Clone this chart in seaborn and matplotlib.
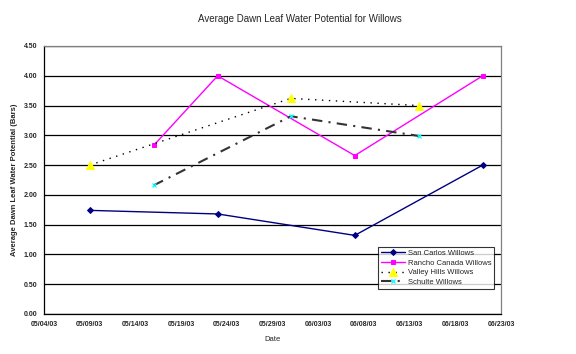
import pandas as pd
import numpy as np
import matplotlib
matplotlib.use("Agg")
import matplotlib.pyplot as plt
import matplotlib.dates as mdates
import seaborn as sns

# values
san_carlos_dates = ["2003-05-09", "2003-05-23", "2003-06-07", "2003-06-21"]
san_carlos_vals = [1.74, 1.68, 1.32, 2.50]

rancho_dates = ["2003-05-16", "2003-05-23", "2003-06-07", "2003-06-21"]
rancho_vals = [2.83, 4.00, 2.66, 4.00]

valley_dates = ["2003-05-09", "2003-05-31", "2003-06-14"]
valley_vals = [2.50, 3.62, 3.50]

schulte_dates = ["2003-05-16", "2003-05-31", "2003-06-14"]
schulte_vals = [2.16, 3.32, 2.99]

y_ticks = [0.0, 0.5, 1.0, 1.5, 2.0, 2.5, 3.0, 3.5, 4.0, 4.5]

sns.set_style("white")
plt.rcParams["font.family"] = ["Liberation Sans", "DejaVu Sans"]

fig = plt.figure(figsize=(5.76, 3.54), dpi=100)
ax = fig.add_axes([44 / 576, 1 - 314 / 354, (501 - 44) / 576, (314 - 46) / 354])

sns.lineplot(x=pd.to_datetime(san_carlos_dates), y=san_carlos_vals, ax=ax, color="#000080", lw=1.0,
             marker="D", markersize=3, markerfacecolor="#000080",
             markeredgecolor="#000080", label="San Carlos Willows")
sns.lineplot(x=pd.to_datetime(rancho_dates), y=rancho_vals, ax=ax, color="#FF00FF", lw=1.0,
             marker="s", markersize=3.5, markerfacecolor="#FF00FF",
             markeredgecolor="#FF00FF", label="Rancho Canada Willows")
sns.lineplot(x=pd.to_datetime(valley_dates), y=valley_vals, ax=ax, color="black", lw=1.0,
             linestyle=(0, (1, 4)), marker="^", markersize=5.5, markerfacecolor="#FFFF00",
             markeredgecolor="#FFFF00", label="Valley Hills Willows")
sns.lineplot(x=pd.to_datetime(schulte_dates), y=schulte_vals, ax=ax, color="#333333", lw=1.5,
             linestyle=(0, (5, 3, 1, 3)), marker="x", markersize=3.5, markerfacecolor="#00FFFF",
             markeredgecolor="#00FFFF", markeredgewidth=0.9, label="Schulte Willows")

ax.set_xlim(pd.Timestamp("2003-05-04"), pd.Timestamp("2003-06-23"))
ticks = pd.date_range("2003-05-04", "2003-06-23", freq="5D")
ax.set_xticks(ticks)
ax.xaxis.set_major_formatter(mdates.DateFormatter("%m/%d/%y"))

ax.set_ylim(0, 4.5)
ax.set_yticks(y_ticks)
ax.set_yticklabels([f"{t:.2f}" for t in y_ticks])
ax.yaxis.grid(True, color="black", lw=0.9)
ax.set_axisbelow(True)

for s in ["left", "bottom"]:
    ax.spines[s].set_color("black")
    ax.spines[s].set_linewidth(0.9)
for s in ["top", "right"]:
    ax.spines[s].set_color("#808080")
    ax.spines[s].set_linewidth(0.9)

ax.tick_params(axis="both", direction="out", length=3, width=0.8, color="black",
               labelsize=5, pad=2)
for lab in ax.get_xticklabels() + ax.get_yticklabels():
    lab.set_fontweight("bold")

ax.set_xlabel("Date", fontsize=5.5, labelpad=6)
ax.set_ylabel("Average Dawn Leaf Water Potential (Bars)", fontsize=5.5, fontweight="bold", labelpad=4)
fig.suptitle("Average Dawn Leaf Water Potential for Willows", fontsize=7, x=0.52, y=0.96)

leg = ax.legend(loc="lower right", bbox_to_anchor=(0.993, 0.08), fontsize=5.5,
                frameon=True, fancybox=False, edgecolor="black", borderpad=0.35,
                labelspacing=0.3, handlelength=3.2, handletextpad=0.3)
leg.get_frame().set_linewidth(0.8)

fig.savefig("out.png", dpi=100)
